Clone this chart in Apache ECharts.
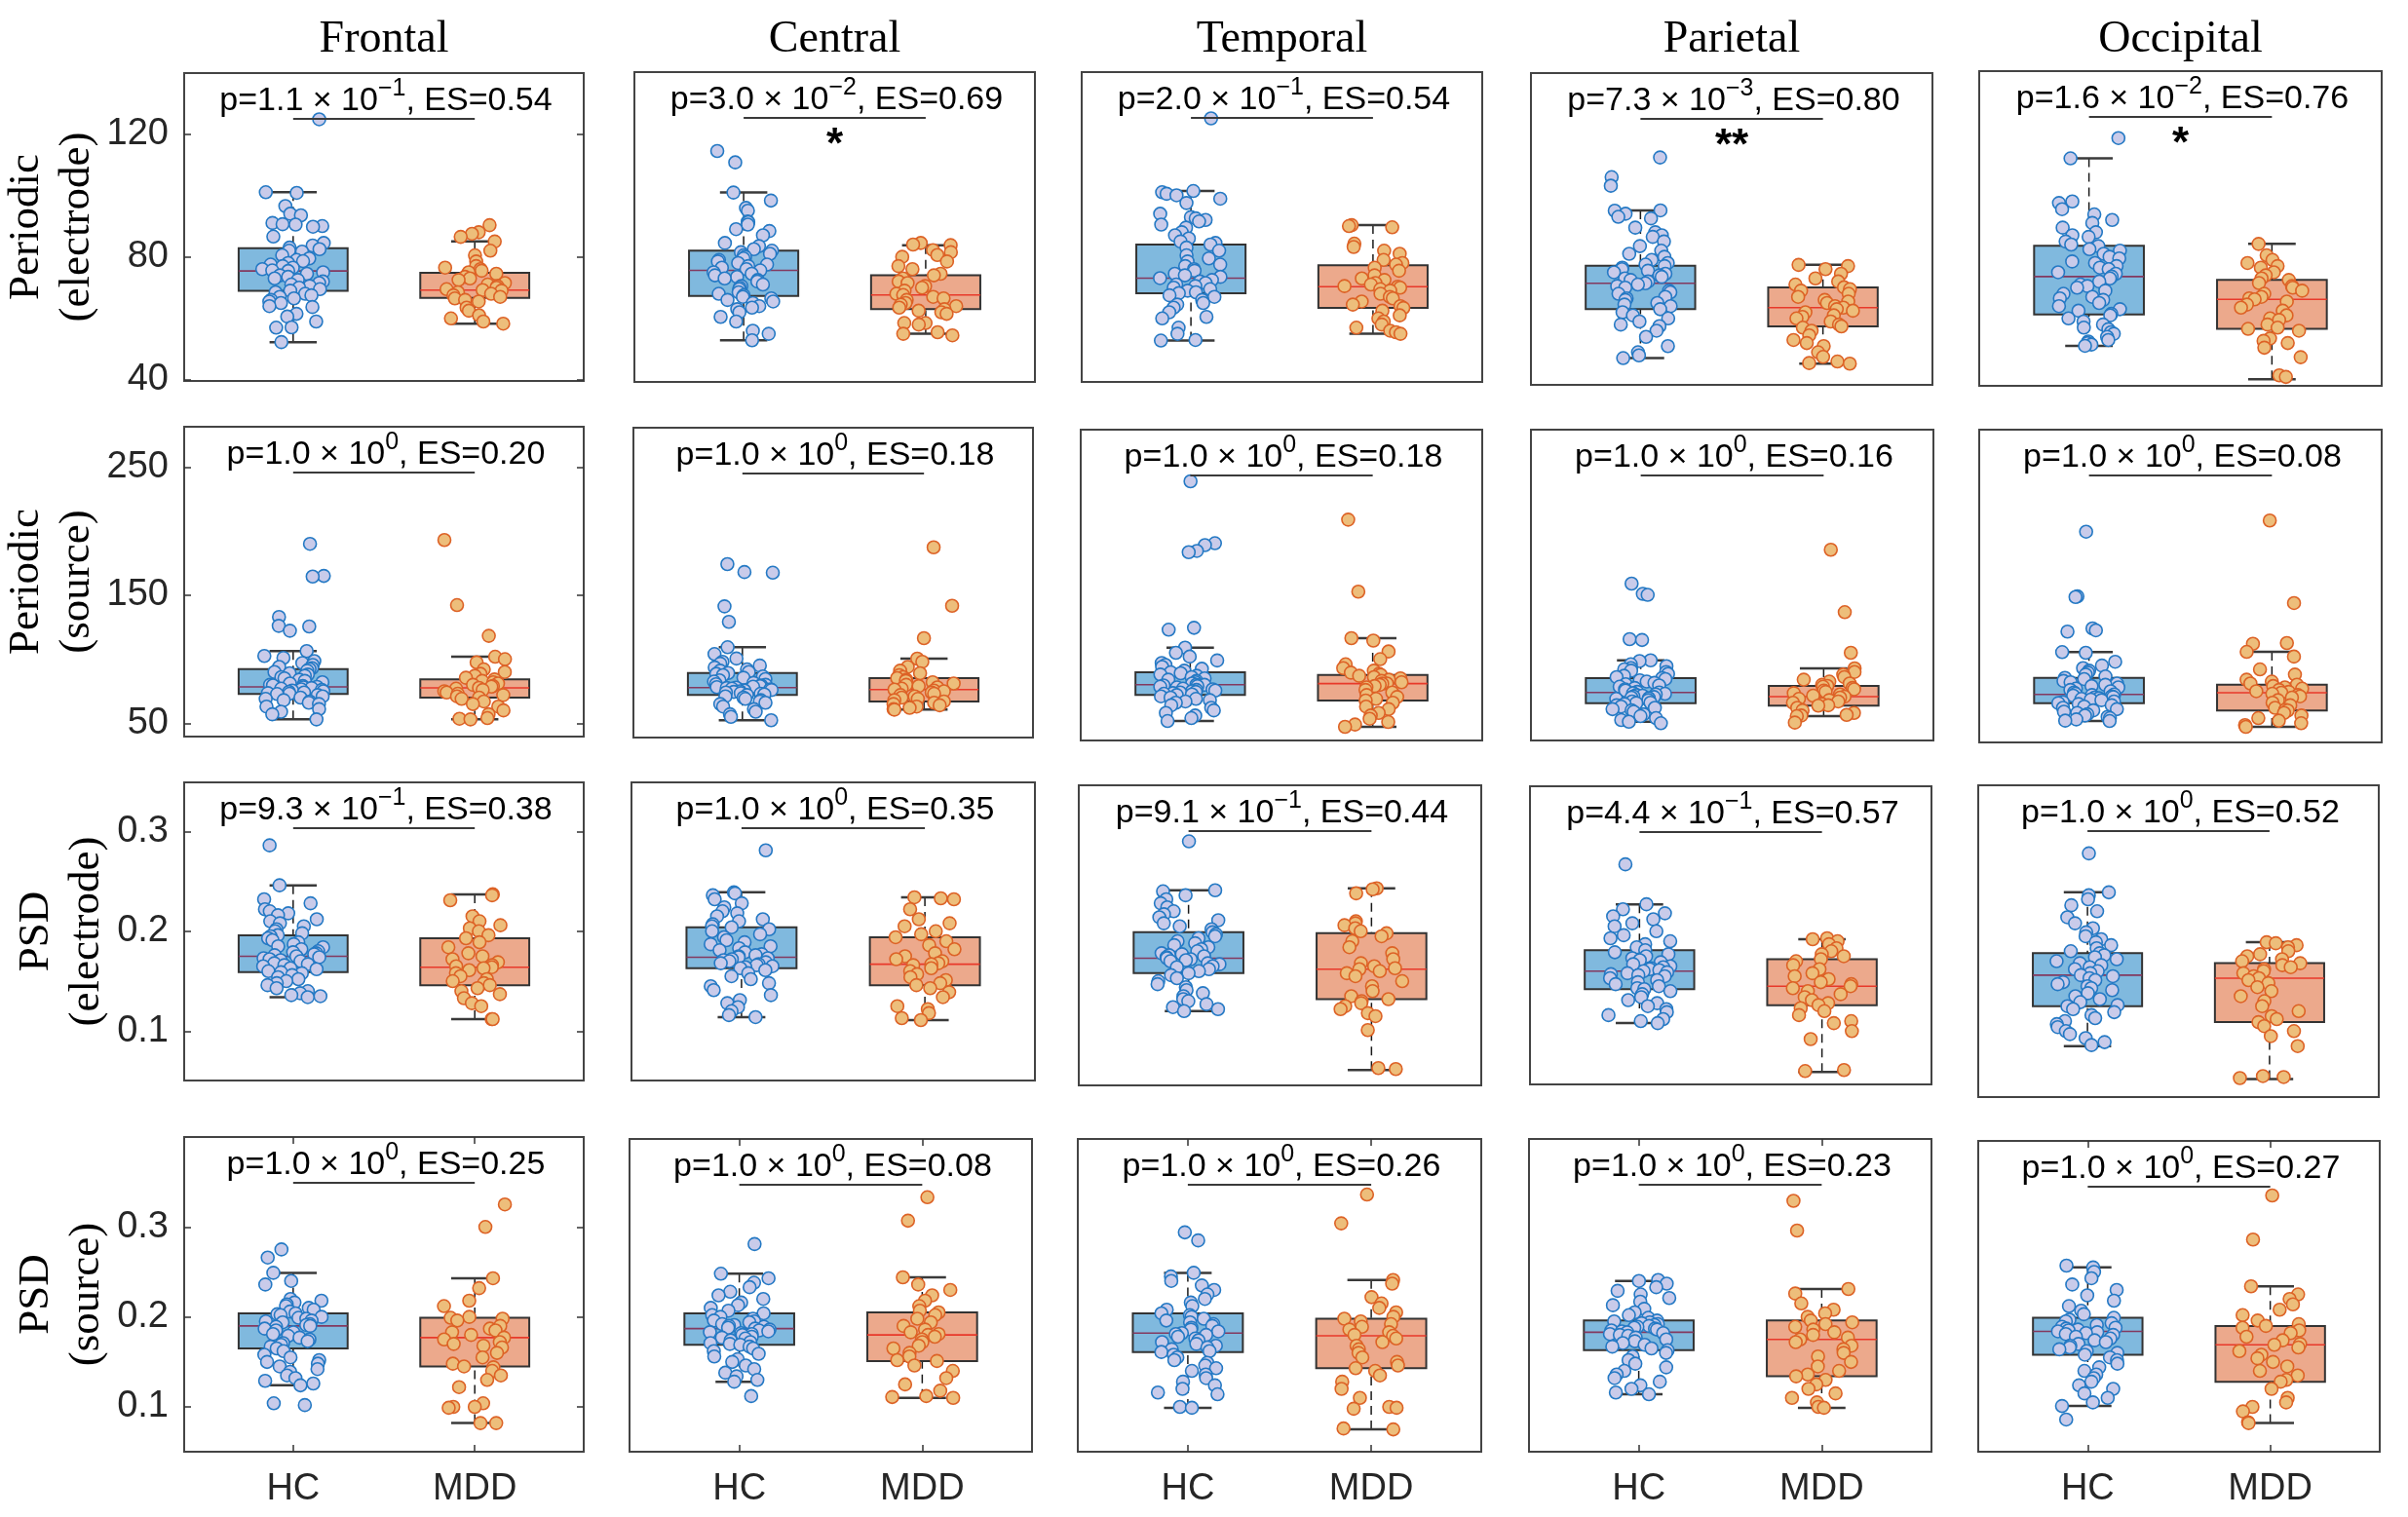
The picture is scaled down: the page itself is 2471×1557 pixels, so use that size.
<!DOCTYPE html>
<html><head><meta charset="utf-8">
<script src="https://cdn.jsdelivr.net/npm/echarts/dist/echarts.min.js"></script>
<style>html,body{margin:0;padding:0;background:#fff}#chart{width:2471px;height:1557px}</style>
</head><body><div id="chart"></div>
<script>
// ---------------- DATA ----------------
const regions = ['Frontal', 'Central', 'Temporal', 'Parietal', 'Occipital'];
const groups = ['HC', 'MDD'];
const rowLabels = ['Periodic\n(electrode)', 'Periodic\n(source)', 'PSD\n(electrode)', 'PSD\n(source)'];
const yTicks = [[40, 80, 120], [50, 150, 250], [0.1, 0.2, 0.3], [0.1, 0.2, 0.3]];

const pMant = [['1.1','3.0','2.0','7.3','1.6'], ['1.0','1.0','1.0','1.0','1.0'], ['9.3','1.0','9.1','4.4','1.0'], ['1.0','1.0','1.0','1.0','1.0']];
const pExp = [['−1','−2','−1','−3','−2'], ['0','0','0','0','0'], ['−1','0','−1','−1','0'], ['0','0','0','0','0']];
const effectSize = [['0.54','0.69','0.54','0.80','0.76'], ['0.20','0.18','0.18','0.16','0.08'], ['0.38','0.35','0.44','0.57','0.52'], ['0.25','0.08','0.26','0.23','0.27']];
const sigStars = [['','*','','**','*'], ['','','','',''], ['','','','',''], ['','','','','']];

// box stats: [lower whisker, Q1, median, Q3, upper whisker] per region
const hcBoxPeriodicElectrode = [[52.3,69,75.4,82.8,101],[52.9,67.3,75.6,82,100.9],[52.8,68.2,73.1,84,101.4],[47.1,63,71.4,77.1,95.1],[51.1,61.3,73.6,83.6,112]];
const mddBoxPeriodicElectrode = [[58.3,66.7,69.2,74.8,85],[55,63,67.6,74,83.8],[55,63.4,70.3,77.3,90.3],[45.3,57.4,63.5,70.1,77.4],[40.2,56.6,66.2,72.5,84.2]];
const hcBoxPeriodicSource = [[53,72.8,78.4,92.3,106.3],[52.3,72,77.8,89.2,109.3],[51.7,72,80.1,89.8,109],[51.2,65.7,74,85.2,99.1],[51.7,65.7,72.5,85.4,105.5]];
const mddBoxPeriodicSource = [[53,70,77.6,84.2,101.9],[60.6,67,76.3,85.2,100.4],[47.2,67.7,80.9,87.7,116.4],[55.5,63.7,70.8,79.1,92.8],[47.2,59.9,73.8,80.1,105.7]];
const hcBoxPsdElectrode = [[0.134,0.159,0.175,0.196,0.246],[0.114,0.163,0.174,0.204,0.239],[0.120,0.158,0.173,0.199,0.241],[0.108,0.142,0.160,0.181,0.227],[0.085,0.125,0.156,0.178,0.239]];
const mddBoxPsdElectrode = [[0.112,0.146,0.164,0.193,0.237],[0.111,0.146,0.167,0.194,0.234],[0.061,0.132,0.162,0.198,0.243],[0.059,0.126,0.145,0.172,0.192],[0.052,0.109,0.153,0.168,0.189]];
const hcBoxPsdSource = [[0.124,0.165,0.190,0.204,0.249],[0.128,0.169,0.187,0.204,0.248],[0.099,0.161,0.182,0.204,0.249],[0.114,0.163,0.183,0.196,0.240],[0.101,0.158,0.184,0.199,0.255]];
const mddBoxPsdSource = [[0.082,0.145,0.177,0.199,0.243],[0.110,0.151,0.180,0.205,0.244],[0.075,0.143,0.179,0.198,0.241],[0.099,0.134,0.175,0.196,0.231],[0.082,0.128,0.169,0.190,0.234]];

// individual subjects
const hcPeriodicElectrode = [
 [124.7,101,100.8,96.5,94,93.5,91,90.6,90.5,90,89.8,86.6,84.5,83.7,83,82.5,82,81.7,80.5,79.5,79,78.6,78,77.5,77,76.5,76,75.6,75.4,75,74.5,74,73.5,73,72.5,72,71.5,71,70.5,70,69.5,69,68.5,68,67.5,67,66.5,66,65.5,65,64,63.7,61.5,60.6,59,57.1,57,52.3],
 [114.4,110.7,100.9,98.3,95.9,95,91.5,91.3,90.5,89,88.4,87,84.5,83.5,82.5,82,81.5,81,80.5,80,79.5,79,78.5,78,77.5,77,76.5,76,75.6,75,74.5,74,73.5,73,72.5,72,71,70.5,70,69.5,68.5,68,67.5,67,66.5,66,65.5,65,64,63.5,63,62,60.5,59,56,55,52.9],
 [125,101.4,101,100.5,100,98.9,97.5,94,92.9,92.5,92,91.5,90.5,89.5,88,87,86,85,84.5,84,83,82,80.5,79.5,78.5,77.5,77,76,75.5,74.5,74,73.5,73.1,72.5,72,71.5,71,70.5,70,69.5,69,68.5,68.2,67.5,67,66,65,64.5,63.5,62,60.5,60,57,55,53,52.8],
 [112.3,105.9,103.1,95.1,95,94,93,92.5,89.5,88,87,86.5,85,83.5,82,81,80,79,78,77.5,77,76.5,76,75.5,75,74.5,74,73.5,73,72.5,72,71.4,71,70.5,70,69,68.5,68,67,66.5,66,65,64.5,64,63,62,61,60,59,58,57.5,56,54,51,49,48,47.1],
 [118.6,112,98,97.5,95.5,93.8,92,91,89.5,88,87,86.5,85,84,83.5,82.5,82,81,80,79.5,78.5,78,77,76.5,76,75,74.5,73.6,73,72,71,70.5,70,69,68,67,66.5,66,65,64,63,62.5,61.5,61,60,59,58,57,56.5,55.5,55,54,53,52.5,52,51.5,51.1]
];
const mddPeriodicElectrode = [
 [90.3,88,87.5,86.5,85,82,80.5,78.5,77,76.5,76,75.5,75,74.5,73.5,73,72.5,71.5,71,70.5,70,69.5,69.2,69,68.5,68,67.5,67,66.5,66,65.5,63.5,62.5,61,60,59,58.3],
 [84.5,84,83.8,82.2,81.5,80.6,80,78.5,77,76,74.5,74,73,72,71.5,70.5,70,69,68,67.6,67,66.5,66,65,64.5,64,63.5,63,62.5,62,61.5,58.5,58.5,58,55.5,54.5,55],
 [90.3,90,89.6,84.3,83.2,82,81,79,78,77.5,76.5,75.5,74,73,72.5,71.5,71,70.5,70.3,70,69.5,69,68,67,66.5,65.5,64.5,64,63.4,62.5,61,60,59,58,57,56,55.5,55],
 [77.4,77,76,74.5,73,72,71,70.1,69.5,69,68,67,66,65.5,65,64,63.5,63,62.5,62,61,60.5,60,59,58,57.4,57,56,54.5,53,52,51,49,47.5,46,45.5,45.3],
 [84.2,80.5,79,78,77,76.5,75,74,73,72.5,71.5,70.5,70,69,68,67,66.5,66.2,65.5,64.5,63.5,62.5,61,60,59.5,58,57,56.6,56,53.5,52.7,52,50.5,47.4,41.5,41]
];
const hcPeriodicSource = [
 [190,165,164.5,132.9,126,125.5,122.2,106.3,102.5,101,98.5,97,95.5,94,93,92.3,91,90,89,88,87,86,85,84,83,82,81,80,79.5,79,78.4,78,77.5,77,76.5,76,75.5,75,74.5,74,73.5,73,72.8,72,71,70,69,68,67,66,65,63,61,59,57,53],
 [174.2,168,167.5,141.2,129.1,109.3,104,100.5,98,96.5,95,93.5,92,91,90,89.2,88.5,87.5,86.5,85.5,84.5,83.5,82.5,81.5,80.5,80,79.5,79,78.5,78.2,77.8,77.5,77,76.5,76,75.5,75,74.5,74,73.5,73,72.5,72,71,70,69,68,67,66,65,63,61,59,57,55,52.3],
 [238.8,190.5,189,184.5,183.5,124.5,123,109,105,102,99,97,95.5,94,92.5,91,89.8,89,88,87,86,85,84,83,82,81,80.1,80,79.5,79,78.5,78,77,76.5,76,75.5,75,74.5,74,73.5,73,72.5,72,71,70,69,68,67,66,64,62,60,58,56,54,51.7],
 [159,151,150.2,115.6,115,99.1,98.5,96,94.5,93,92,91,90,88.5,87,86,85.2,84.5,83.5,82.5,81.5,80.5,79.5,78.5,77.5,76.5,75.5,74.5,74,73.5,73,72.5,72,71.5,71,70.5,70,69.5,69,68,67,66,65.7,65,64,63,62,61,60,59,57,55.5,54,52.5,51.2,50],
 [199.5,149,148.5,124,122.5,121.5,105.5,105,98,95,93,91,89.5,88,86.5,85.4,84.5,83,82,81,80,79,78,77,76,75,74,73,72.5,72,71.5,71,70.5,70,69.5,69,68.5,68,67,66.5,65.7,65,64,63,62,61,60,59,58,57,56,55,54,53,52,51.7]
];
const mddPeriodicSource = [
 [193,142.2,118.2,101.9,100,97.5,92,90,88.5,87,85.5,84.2,83,82,81,80,79,78.5,77.6,77,76,75,74,73,72,71,70,69,67,65,63,60,57,54,53.5,53],
 [187.3,141.7,116.4,100.4,98,94,91,89,87.5,86,85.2,84,83,82,81,80,79,78,77,76.3,75.5,75,74,73,72,71,70,69,68,67,66,65,64,63,62,61,60.6],
 [208.9,152.7,116.4,114.5,106,100,96,93,91,89.5,88.5,87.7,87,86,85,84,83,82,81,80.9,80,79,78,76,74,72,70.5,69,67.7,66,63,61,58,56,53.5,51,49,47.2],
 [185.4,136.7,105,92.8,90,88,86,84,82.5,81,80,79.1,78.5,77.5,76.5,75.5,74.5,73.5,72.5,71.5,70.8,70,69,68,67,66,65,64,63.7,62,60,58,56.5,56,55.5,50.5],
 [208.2,143.8,112.6,112,105.7,102,92,88,84,82.5,81,80.1,79,78,77,76,75,74.5,73.8,73,72,71,70,68,66,64,62,60.5,59.9,58,56,54,52,50,48.5,47.2]
];
const hcPsdElectrode = [
 [0.286,0.246,0.232,0.228,0.222,0.220,0.218,0.216,0.212,0.210,0.208,0.205,0.202,0.200,0.198,0.196,0.195,0.193,0.191,0.189,0.187,0.185,0.184,0.182,0.180,0.179,0.178,0.177,0.176,0.175,0.174,0.173,0.172,0.171,0.170,0.168,0.167,0.166,0.165,0.163,0.162,0.160,0.159,0.158,0.156,0.154,0.152,0.150,0.148,0.146,0.143,0.140,0.138,0.136,0.135,0.134],
 [0.281,0.239,0.238,0.236,0.232,0.228,0.224,0.220,0.218,0.215,0.212,0.210,0.207,0.205,0.204,0.202,0.200,0.197,0.194,0.191,0.189,0.187,0.185,0.183,0.181,0.179,0.177,0.176,0.175,0.174,0.173,0.172,0.171,0.170,0.169,0.168,0.167,0.166,0.165,0.164,0.163,0.161,0.158,0.155,0.152,0.148,0.145,0.141,0.136,0.131,0.128,0.124,0.120,0.116,0.114],
 [0.290,0.241,0.240,0.236,0.232,0.228,0.224,0.220,0.217,0.214,0.211,0.208,0.205,0.202,0.199,0.197,0.195,0.193,0.190,0.188,0.186,0.184,0.182,0.180,0.178,0.177,0.176,0.175,0.174,0.173,0.172,0.171,0.170,0.168,0.167,0.165,0.164,0.162,0.160,0.158,0.156,0.153,0.150,0.147,0.144,0.141,0.138,0.135,0.132,0.130,0.127,0.124,0.122,0.120],
 [0.267,0.227,0.222,0.218,0.215,0.212,0.208,0.205,0.200,0.196,0.193,0.190,0.187,0.184,0.181,0.179,0.177,0.175,0.173,0.171,0.169,0.167,0.165,0.164,0.163,0.162,0.161,0.160,0.159,0.158,0.157,0.156,0.155,0.153,0.151,0.149,0.147,0.145,0.143,0.142,0.140,0.137,0.134,0.131,0.128,0.125,0.122,0.119,0.116,0.112,0.110,0.108],
 [0.278,0.239,0.236,0.232,0.226,0.220,0.214,0.208,0.203,0.199,0.195,0.192,0.189,0.186,0.183,0.180,0.178,0.176,0.174,0.172,0.170,0.168,0.166,0.164,0.162,0.160,0.158,0.156,0.155,0.153,0.151,0.149,0.147,0.145,0.143,0.141,0.138,0.135,0.132,0.129,0.126,0.125,0.122,0.119,0.116,0.113,0.110,0.107,0.104,0.100,0.097,0.093,0.089,0.086]
];
const mddPsdElectrode = [
 [0.237,0.236,0.231,0.215,0.210,0.206,0.203,0.200,0.196,0.193,0.189,0.184,0.178,0.175,0.172,0.169,0.166,0.165,0.164,0.163,0.161,0.158,0.155,0.152,0.150,0.148,0.146,0.143,0.140,0.137,0.133,0.128,0.125,0.112,0.112],
 [0.234,0.233,0.232,0.222,0.212,0.208,0.205,0.200,0.197,0.194,0.190,0.186,0.182,0.178,0.175,0.172,0.170,0.168,0.167,0.166,0.163,0.160,0.157,0.154,0.151,0.148,0.146,0.143,0.139,0.134,0.125,0.122,0.118,0.113,0.111],
 [0.243,0.242,0.238,0.210,0.208,0.206,0.203,0.200,0.198,0.195,0.190,0.184,0.178,0.172,0.168,0.165,0.163,0.162,0.160,0.158,0.155,0.150,0.145,0.140,0.135,0.132,0.130,0.128,0.125,0.122,0.118,0.115,0.101,0.063,0.062],
 [0.193,0.192,0.190,0.187,0.183,0.180,0.177,0.175,0.172,0.170,0.166,0.162,0.158,0.155,0.152,0.149,0.147,0.145,0.143,0.140,0.137,0.134,0.131,0.128,0.126,0.123,0.120,0.116,0.110,0.108,0.100,0.092,0.061,0.060],
 [0.189,0.188,0.186,0.184,0.180,0.177,0.175,0.172,0.170,0.168,0.166,0.164,0.162,0.160,0.158,0.155,0.153,0.151,0.148,0.144,0.140,0.135,0.130,0.125,0.120,0.115,0.112,0.109,0.105,0.100,0.095,0.085,0.055,0.054,0.053]
];
const hcPsdSource = [
 [0.275,0.266,0.249,0.240,0.236,0.220,0.218,0.216,0.214,0.212,0.210,0.208,0.206,0.204,0.203,0.202,0.200,0.199,0.198,0.196,0.195,0.194,0.192,0.191,0.190,0.189,0.187,0.185,0.183,0.181,0.179,0.177,0.175,0.173,0.171,0.169,0.167,0.165,0.162,0.158,0.155,0.152,0.150,0.148,0.145,0.142,0.139,0.135,0.132,0.129,0.126,0.124,0.104,0.102],
 [0.281,0.248,0.243,0.238,0.233,0.228,0.224,0.220,0.216,0.213,0.210,0.207,0.204,0.202,0.200,0.198,0.196,0.195,0.194,0.192,0.191,0.190,0.189,0.188,0.187,0.186,0.185,0.184,0.183,0.182,0.181,0.180,0.178,0.177,0.176,0.174,0.172,0.171,0.170,0.169,0.167,0.165,0.162,0.159,0.156,0.153,0.150,0.146,0.142,0.138,0.134,0.130,0.128,0.112],
 [0.294,0.285,0.249,0.245,0.240,0.235,0.230,0.225,0.220,0.216,0.212,0.208,0.204,0.202,0.200,0.198,0.196,0.194,0.192,0.190,0.188,0.186,0.184,0.182,0.181,0.180,0.178,0.176,0.174,0.172,0.170,0.168,0.166,0.164,0.162,0.161,0.158,0.155,0.152,0.149,0.146,0.143,0.140,0.136,0.132,0.128,0.124,0.120,0.116,0.114,0.100,0.099],
 [0.241,0.240,0.237,0.233,0.229,0.225,0.221,0.217,0.213,0.209,0.205,0.202,0.199,0.196,0.195,0.194,0.193,0.192,0.191,0.190,0.189,0.188,0.187,0.186,0.185,0.184,0.183,0.182,0.181,0.180,0.179,0.177,0.175,0.173,0.171,0.169,0.167,0.165,0.163,0.160,0.156,0.152,0.148,0.144,0.140,0.136,0.132,0.128,0.124,0.120,0.116,0.114],
 [0.257,0.255,0.250,0.243,0.236,0.230,0.224,0.218,0.212,0.207,0.203,0.199,0.197,0.195,0.193,0.191,0.189,0.188,0.187,0.186,0.185,0.184,0.183,0.182,0.181,0.180,0.178,0.176,0.174,0.172,0.170,0.168,0.166,0.164,0.162,0.160,0.158,0.155,0.152,0.148,0.144,0.140,0.136,0.132,0.128,0.124,0.120,0.115,0.110,0.105,0.101,0.086]
];
const mddPsdSource = [
 [0.325,0.300,0.243,0.232,0.218,0.212,0.200,0.199,0.198,0.196,0.190,0.187,0.185,0.183,0.180,0.177,0.175,0.172,0.170,0.168,0.166,0.160,0.155,0.148,0.145,0.144,0.140,0.135,0.130,0.122,0.104,0.100,0.100,0.099,0.082,0.082],
 [0.333,0.307,0.244,0.236,0.230,0.224,0.218,0.212,0.207,0.205,0.202,0.198,0.194,0.190,0.186,0.183,0.181,0.180,0.178,0.175,0.172,0.168,0.165,0.160,0.156,0.152,0.151,0.146,0.140,0.132,0.125,0.118,0.112,0.111,0.110],
 [0.336,0.304,0.241,0.237,0.222,0.215,0.210,0.205,0.200,0.198,0.195,0.192,0.189,0.186,0.183,0.180,0.179,0.176,0.172,0.168,0.164,0.160,0.155,0.150,0.146,0.143,0.140,0.135,0.128,0.120,0.110,0.100,0.099,0.098,0.076,0.075],
 [0.329,0.296,0.231,0.226,0.215,0.208,0.204,0.200,0.196,0.194,0.192,0.189,0.186,0.183,0.180,0.177,0.175,0.172,0.168,0.164,0.160,0.156,0.150,0.145,0.140,0.136,0.134,0.130,0.125,0.120,0.115,0.110,0.105,0.100,0.099],
 [0.335,0.286,0.234,0.225,0.220,0.214,0.208,0.202,0.196,0.192,0.190,0.188,0.185,0.182,0.178,0.174,0.170,0.169,0.166,0.162,0.158,0.154,0.150,0.145,0.140,0.135,0.130,0.128,0.120,0.110,0.105,0.100,0.095,0.083,0.082]
];

// ---------------- LAYOUT ----------------
const hcRows = [hcPeriodicElectrode, hcPeriodicSource, hcPsdElectrode, hcPsdSource];
const mddRows = [mddPeriodicElectrode, mddPeriodicSource, mddPsdElectrode, mddPsdSource];
const hcBoxRows = [hcBoxPeriodicElectrode, hcBoxPeriodicSource, hcBoxPsdElectrode, hcBoxPsdSource];
const mddBoxRows = [mddBoxPeriodicElectrode, mddBoxPeriodicSource, mddBoxPsdElectrode, mddBoxPsdSource];

// pixel calibration of each row (value v0 sits at pixel p0, k pixels per unit)
const rowScale = [{v0:40,p0:390,k:3.159},{v0:50,p0:742.3,k:1.315},{v0:0.1,p0:1058.3,k:1025},{v0:0.1,p0:1444,k:923.5}];
const panelRects = [
 [[189,75,599,391],[651,74,1062,392],[1110,74,1521,392],[1571,75,1983,395],[2031,73,2444,396]],
 [[189,438,599,756],[650,439,1060,757],[1109,441,1521,760],[1571,441,1984,760],[2031,441,2444,762]],
 [[189,803,599,1109],[648,803,1062,1109],[1107,806,1520,1114],[1570,807,1982,1113],[2030,806,2441,1126]],
 [[189,1167,599,1490],[646,1169,1059,1490],[1106,1169,1520,1490],[1569,1169,1982,1490],[2030,1171,2442,1490]]
];
const rowLabelX = [53, 53, 63, 63];

const SANS = '"Liberation Sans", Arial, Helvetica, sans-serif';
const SERIF = '"Liberation Serif", "Times New Roman", serif';
const boxFill = ['#80B9DE', '#ECA98C'];
const medColor = ['#83395F', '#E8392A'];
const ptFill = ['#C9CBEA', '#EDBE7B'];
const ptEdge = ['#2479C4', '#DD6226'];
const edgeCol = '#333333';

function jit(i, seed) {
  const s = Math.sin((i + 1) * 12.9898 + seed * 78.233) * 43758.5453;
  return ((s - Math.floor(s)) - 0.5) * 0.34;
}

function boxRender(params, api) {
  const x = api.value(0), lo = api.value(1), q1 = api.value(2), md = api.value(3), q3 = api.value(4), hi = api.value(5);
  const g = Math.round(x) - 1;
  const tl = api.coord([x - 0.3, q3]), br = api.coord([x + 0.3, q1]);
  const pm = api.coord([x, md]), pLo = api.coord([x, lo]), pHi = api.coord([x, hi]);
  const cl = api.coord([x - 0.13, lo])[0], cr = api.coord([x + 0.13, lo])[0];
  const dash = {stroke: '#1a1a1a', lineWidth: 1.5, lineDash: [9, 6]};
  const cap = {stroke: '#3a3a3a', lineWidth: 2.5};
  return {type: 'group', children: [
    {type: 'line', shape: {x1: pHi[0], y1: pHi[1], x2: pHi[0], y2: tl[1]}, style: dash},
    {type: 'line', shape: {x1: pLo[0], y1: pLo[1], x2: pLo[0], y2: br[1]}, style: dash},
    {type: 'line', shape: {x1: cl, y1: pHi[1], x2: cr, y2: pHi[1]}, style: cap},
    {type: 'line', shape: {x1: cl, y1: pLo[1], x2: cr, y2: pLo[1]}, style: cap},
    {type: 'rect', shape: {x: tl[0], y: tl[1], width: br[0] - tl[0], height: br[1] - tl[1]}, style: {fill: boxFill[g], stroke: edgeCol, lineWidth: 2}},
    {type: 'line', shape: {x1: tl[0], y1: pm[1], x2: br[0], y2: pm[1]}, style: {stroke: medColor[g], lineWidth: 1.6}}
  ]};
}

function annotRender(r, c) {
  return function (params, api) {
    const cs = params.coordSys;
    const a = api.coord([1, 0]), b = api.coord([2, 0]), m = api.coord([1.5, 0]);
    const yBar = cs.y + 47;
    const txt = '{m|p=' + pMant[r][c] + ' × 10}{s|' + pExp[r][c] + '}{m|, ES=' + effectSize[r][c] + '}';
    const children = [
      {type: 'line', shape: {x1: a[0], y1: yBar, x2: b[0], y2: yBar}, style: {stroke: '#3a3a3a', lineWidth: 2}},
      {type: 'text', x: m[0] + 2, y: cs.y + 29, style: {
        text: txt, font: '34px ' + SANS, fill: '#000',
        align: 'center', verticalAlign: 'middle', textAlign: 'center', textVerticalAlign: 'middle',
        rich: {
          m: {fontSize: 34, fontFamily: SANS, fill: '#000'},
          s: {fontSize: 25, fontFamily: SANS, fill: '#000', padding: [0, 0, 25, 0]}
        }
      }}
    ];
    if (sigStars[r][c]) {
      children.push({type: 'text', x: m[0], y: cs.y + 76, style: {
        text: sigStars[r][c], font: 'bold 44px ' + SANS, fill: '#000',
        align: 'center', verticalAlign: 'middle', textAlign: 'center', textVerticalAlign: 'middle'}});
    }
    return {type: 'group', children};
  };
}

const grid = [], xAxis = [], yAxis = [], series = [], graphic = [];
const tickStyle = {color: '#333', width: 1.5};

for (let r = 0; r < 4; r++) {
  for (let c = 0; c < 5; c++) {
    const gi = grid.length;
    const [L, T, R, B] = panelRects[r][c];
    const sc = rowScale[r];
    const yMax = sc.v0 + (sc.p0 - T) / sc.k;
    const yMin = sc.v0 - (B - sc.p0) / sc.k;
    grid.push({left: L, top: T, width: R - L, height: B - T, show: true, borderColor: '#444', borderWidth: 2, backgroundColor: '#fff'});

    const xi = xAxis.length;
    const isBottom = r === 3;
    xAxis.push({
      gridIndex: gi, type: 'value', min: 0.4, max: 2.6, position: 'bottom',
      axisLine: {show: false}, splitLine: {show: false},
      axisTick: isBottom ? {show: true, inside: true, length: 7, customValues: [1, 2], lineStyle: tickStyle} : {show: false},
      axisLabel: isBottom ? {show: true, customValues: [1, 2], formatter: v => groups[Math.round(v) - 1], fontSize: 38, fontFamily: SANS, color: '#262626', margin: 20} : {show: false}
    });
    if (isBottom) {
      xAxis.push({
        gridIndex: gi, type: 'value', min: 0.4, max: 2.6, position: 'top',
        axisLine: {show: false}, splitLine: {show: false},
        axisTick: {show: true, inside: true, length: 7, customValues: [1, 2], lineStyle: tickStyle},
        axisLabel: {show: false}
      });
    }
    const yi = yAxis.length;
    const first = c === 0;
    yAxis.push({
      gridIndex: gi, type: 'value', min: yMin, max: yMax, position: 'left',
      axisLine: {show: false}, splitLine: {show: false},
      axisTick: first ? {show: true, inside: true, length: 7, customValues: yTicks[r], lineStyle: tickStyle} : {show: false},
      axisLabel: first ? {show: true, customValues: yTicks[r], formatter: v => (r >= 2 ? v.toFixed(1) : String(v)), fontSize: 38, fontFamily: SANS, color: '#262626', margin: 16} : {show: false}
    });
    if (first) {
      yAxis.push({
        gridIndex: gi, type: 'value', min: yMin, max: yMax, position: 'right',
        axisLine: {show: false}, splitLine: {show: false},
        axisTick: {show: true, inside: true, length: 7, customValues: yTicks[r], lineStyle: tickStyle},
        axisLabel: {show: false}
      });
    }

    const hb = hcBoxRows[r][c], mb = mddBoxRows[r][c];
    series.push({
      type: 'custom', xAxisIndex: xi, yAxisIndex: yi, clip: true, silent: true, z: 2,
      renderItem: boxRender,
      data: [[1].concat(hb), [2].concat(mb)]
    });
    const seed = gi * 2;
    [hcRows[r][c], mddRows[r][c]].forEach((vals, g) => {
      series.push({
        type: 'scatter', xAxisIndex: xi, yAxisIndex: yi, clip: true, silent: true, z: 3,
        symbol: 'circle', symbolSize: 13,
        itemStyle: {color: ptFill[g], borderColor: ptEdge[g], borderWidth: 1.6, opacity: 1},
        data: vals.map((v, i) => [g + 1 + jit(i, seed + g), v])
      });
    });
    series.push({
      type: 'custom', xAxisIndex: xi, yAxisIndex: yi, clip: false, silent: true, z: 4,
      renderItem: annotRender(r, c),
      data: [[1.5, (yMin + yMax) / 2]]
    });

    if (r === 0) {
      graphic.push({type: 'text', x: (L + R) / 2, y: 41, silent: true, style: {
        text: regions[c], font: '46px ' + SERIF, fill: '#000',
        align: 'center', verticalAlign: 'middle', textAlign: 'center', textVerticalAlign: 'middle'}});
    }
    if (c === 0) {
      graphic.push({type: 'text', x: rowLabelX[r], y: (T + B) / 2, rotation: Math.PI / 2, silent: true, style: {
        text: rowLabels[r], font: '45px ' + SERIF, fill: '#000', lineHeight: 52,
        align: 'center', verticalAlign: 'middle', textAlign: 'center', textVerticalAlign: 'middle'}});
    }
  }
}

const chart = echarts.init(document.getElementById('chart'), null, {renderer: 'canvas'});
chart.setOption({
  backgroundColor: '#fff',
  animation: false,
  grid, xAxis, yAxis, series, graphic
});
</script></body></html>
